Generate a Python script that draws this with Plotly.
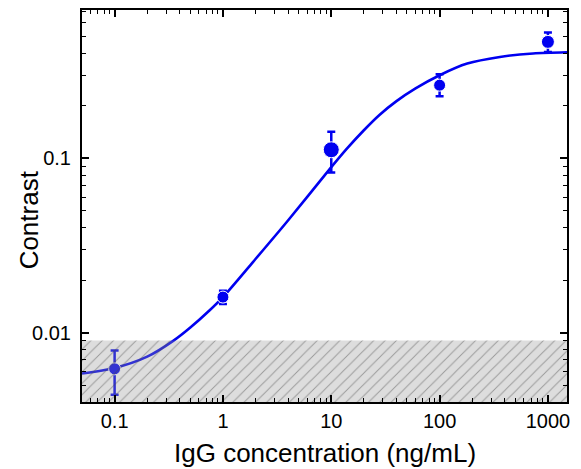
import numpy as np
import plotly.graph_objects as go

# ---- data ----
conc = [0.1, 1, 10, 100, 1000]
contrast = [0.0062, 0.0160, 0.112, 0.263, 0.466]
err_plus = [0.0017, 0.0014, 0.030, 0.041, 0.061]
err_minus = [0.0018, 0.0014, 0.029, 0.036, 0.058]
marker_sizes = [12, 12, 16, 12, 13]

fit_x = [0.05, 0.1, 0.2, 0.35, 0.5, 0.75, 1, 1.9, 3.9, 10, 14, 20, 28, 40, 60, 100,
         180, 360, 730, 1500]
fit_y = [0.00583, 0.00627, 0.00728, 0.0090, 0.0107, 0.0134, 0.0160, 0.0255, 0.0433,
         0.089, 0.114, 0.145, 0.178, 0.213, 0.252, 0.300, 0.350, 0.382, 0.400, 0.406]

lod = 0.009
x_range = [0.05, 1500]
y_range = [0.004, 0.71]

x_ticks = [0.1, 1, 10, 100, 1000]
x_ticktext = ["0.1", "1", "10", "100", "1000"]
y_ticks = [0.01, 0.1]
y_ticktext = ["0.01", "0.1"]

BLUE = "rgb(0,0,240)"
FONT = "Liberation Sans, Arial"

fig = go.Figure()

fig.add_trace(go.Scatter(
    x=fit_x, y=fit_y, mode="lines",
    line=dict(color=BLUE, width=2.6, shape="spline", smoothing=0.8),
    hoverinfo="skip", showlegend=False))

fig.add_trace(go.Scatter(
    x=conc, y=contrast, mode="markers",
    marker=dict(color=BLUE, size=marker_sizes, opacity=1),
    error_y=dict(type="data", array=err_plus, arrayminus=err_minus, color=BLUE,
                 thickness=2.5, width=4),
    showlegend=False))

# hatched limit-of-detection region
fig.add_trace(go.Scatter(
    x=[x_range[0], x_range[1], x_range[1], x_range[0], x_range[0]],
    y=[y_range[0], y_range[0], lod, lod, y_range[0]],
    mode="lines", fill="toself", line=dict(width=0, color="rgba(0,0,0,0)"),
    fillcolor="rgba(150,150,150,0.33)",
    fillpattern=dict(shape="/", bgcolor="rgba(150,150,150,0.33)",
                     fgcolor="rgba(70,70,70,0.9)", size=8, solidity=0.12),
    hoverinfo="skip", showlegend=False))

axis_common = dict(
    showline=True, linecolor="black", linewidth=2, mirror="allticks",
    ticks="inside", ticklen=7, tickwidth=1.5, tickcolor="black",
    showgrid=False, zeroline=False, automargin=False,
    tickfont=dict(family=FONT, size=20, color="black"),
    minor=dict(ticks="inside", ticklen=4, tickwidth=1.2, tickcolor="black",
               dtick="D1", showgrid=False),
)

fig.update_xaxes(
    type="log", range=[np.log10(x_range[0]), np.log10(x_range[1])],
    tickvals=x_ticks, ticktext=x_ticktext, **axis_common)
fig.update_yaxes(
    type="log", range=[np.log10(y_range[0]), np.log10(y_range[1])],
    tickvals=y_ticks, ticktext=y_ticktext, ticklabelstandoff=5, **axis_common)

# the page body has an 8px margin, so the figure is sized to fill the rest of the window
fig.update_layout(
    width=573, height=461,
    margin=dict(l=74, r=14, t=2, b=67),
    plot_bgcolor="white", paper_bgcolor="white",
    annotations=[
        dict(text="IgG concentration (ng/mL)", xref="paper", yref="paper",
             x=0.502, y=-0.13, xanchor="center", yanchor="middle", showarrow=False,
             font=dict(family=FONT, size=26, color="black")),
        dict(text="Contrast", xref="paper", yref="paper", textangle=-90,
             x=-0.11, y=0.465, xanchor="center", yanchor="middle", showarrow=False,
             font=dict(family=FONT, size=26, color="black")),
    ],
)

fig.write_html("out.html")
